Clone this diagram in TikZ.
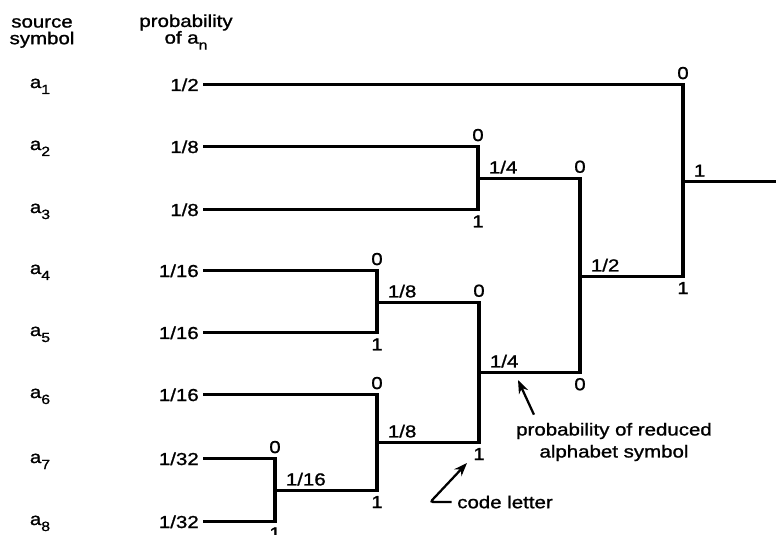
\documentclass[tikz,border=0pt]{standalone}
\usepackage{fontspec}
\setmainfont{Liberation Sans}[FakeStretch=1.18, FakeBold=1.2]
\usetikzlibrary{arrows.meta, positioning}

\newcommand{\lowidx}[1]{\raisebox{-4.5pt}{\fontsize{10}{10}\selectfont #1}}

\begin{document}
\begin{tikzpicture}[
    x=0.75pt, y=-0.75pt,
    font=\fontsize{13}{12.5}\selectfont,
    link/.style={line width=2.4pt},
    sym/.style={inner sep=0pt, anchor=base},
    prob/.style={inner xsep=3pt, inner ysep=0pt, anchor=base east},
    branch/.style={inner sep=0pt},
    bit/.style={inner sep=0pt},
    pointer/.style={line width=1.7pt, -{Stealth[length=10pt, width=7.5pt]}},
]
\useasboundingbox (0,0) rectangle (776,535);

    % Headings
    \node (srchead) [align=center, inner sep=0pt] at (42,33) {source\\symbol};
    \node (probhead) [align=center, inner sep=0pt] at (186,32) {probability\\of a\lowidx{n}};

    % Source symbols
    \node (a1) [sym] at (40,88) {a\lowidx{1}};
    \node (a2) [sym] at (40,150) {a\lowidx{2}};
    \node (a3) [sym] at (40,213) {a\lowidx{3}};
    \node (a4) [sym] at (40,274) {a\lowidx{4}};
    \node (a5) [sym] at (40,336) {a\lowidx{5}};
    \node (a6) [sym] at (40,398) {a\lowidx{6}};
    \node (a7) [sym] at (40,463) {a\lowidx{7}};
    \node (a8) [sym] at (40,525) {a\lowidx{8}};

    % Probabilities
    \node (p1) [prob] at (203,91) {1/2};
    \node (p2) [prob] at (203,153) {1/8};
    \node (p3) [prob] at (203,216) {1/8};
    \node (p4) [prob] at (203,277) {1/16};
    \node (p5) [prob] at (203,339) {1/16};
    \node (p6) [prob] at (203,401) {1/16};
    \node (p7) [prob] at (203,465) {1/32};
    \node (p8) [prob] at (203,528) {1/32};

    % Junctions
    \coordinate (c23) at (478,178.5);
    \coordinate (c45) at (377,302.5);
    \coordinate (c78) at (275,490.5);
    \coordinate (c678) at (377,442.5);
    \coordinate (c4to8) at (479,372.5);
    \coordinate (c2to8) at (580,276.5);
    \coordinate (c1to8) at (683,181.5);
    \coordinate (rootend) at (776,181.5);

    % Tree
    \draw [link] (p1.east) -| (c1to8);
    \draw [link] (p2.east) -| (c23);
    \draw [link] (p3.east) -| (c23);
    \draw [link] (p4.east) -| (c45);
    \draw [link] (p5.east) -| (c45);
    \draw [link] (p6.east) -| (c678);
    \draw [link] (p7.east) -| (c78);
    \draw [link] (p8.east) -| (c78);
    \draw [link] (c78) -| (c678);
    \draw [link] (c45) -| (c4to8);
    \draw [link] (c678) -| (c4to8);
    \draw [link] (c23) -| (c2to8);
    \draw [link] (c4to8) -| (c2to8);
    \draw [link] (c2to8) -| (c1to8);
    \draw [link] (c1to8) -- (rootend);

    % Reduced probabilities
    \node [branch, above right=3.5pt and 8pt of c23] {1/4};
    \node [branch, above right=3.5pt and 8pt of c45] {1/8};
    \node [branch, above right=3.5pt and 8pt of c78] {1/16};
    \node [branch, above right=3.5pt and 8pt of c678] {1/8};
    \node [branch, above right=3.5pt and 8pt of c4to8] {1/4};
    \node [branch, above right=3.5pt and 8pt of c2to8] {1/2};
    \node [branch, above right=3.5pt and 8pt of c1to8] {1};

    % Code letters
    \node [bit, above=4pt] at (c1to8 |- p1.east) {0};
    \node [bit, below=4pt] at (c1to8 |- c2to8) {1};
    \node [bit, above=4pt] at (c23 |- p2.east) {0};
    \node [bit, below=4pt] at (c23 |- p3.east) {1};
    \node [bit, above=4pt] at (c2to8 |- c23) {0};
    \node [bit, below=4pt] at (c2to8 |- c4to8) {0};
    \node [bit, above=4pt] at (c45 |- p4.east) {0};
    \node [bit, below=4pt] at (c45 |- p5.east) {1};
    \node [bit, above=4pt] at (c4to8 |- c45) {0};
    \node [bit, below=4pt] at (c4to8 |- c678) {1};
    \node [bit, above=4pt] at (c678 |- p6.east) {0};
    \node [bit, below=4pt] at (c678 |- c78) {1};
    \node [bit, above=4pt] at (c78 |- p7.east) {0};
    \node [bit, below=4pt] at (c78 |- p8.east) {1};

    % Annotations
    \node (reduced) [align=center, inner sep=0pt, font=\fontsize{13}{16.5}\selectfont] at (614,442) {probability of reduced\\alphabet symbol};
    \node (codelbl) [inner sep=0pt, anchor=west] at (457,502) {code letter};
    \coordinate (redtip) at (518,380);
    \coordinate (codetip) at (467,463);
    \draw [pointer] ([shift={(18,-8)}]reduced.north west) -- (redtip);
    \draw [pointer, rounded corners=2pt] ([xshift=-4pt]codelbl.west) -- ++(-16pt,0) -- (codetip);

\end{tikzpicture}
\end{document}
